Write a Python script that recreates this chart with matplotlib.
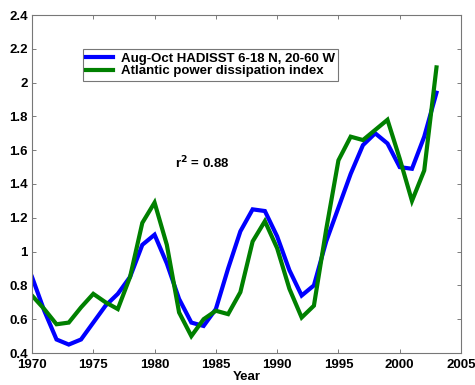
import matplotlib
matplotlib.use("Agg")
import matplotlib.pyplot as plt

plt.rcParams['font.family'] = ['Liberation Sans', 'DejaVu Sans']

years = list(range(1970, 2004))
sst = [0.85, 0.65, 0.48, 0.45, 0.48, 0.58, 0.68, 0.75, 0.85, 1.04,
       1.10, 0.93, 0.72, 0.58, 0.56, 0.66, 0.90, 1.12, 1.25, 1.24,
       1.09, 0.89, 0.74, 0.80, 1.06, 1.26, 1.46, 1.63, 1.70, 1.64,
       1.50, 1.49, 1.68, 1.94]
pdi = [0.74, 0.66, 0.57, 0.58, 0.67, 0.75, 0.70, 0.66, 0.85, 1.17,
       1.29, 1.04, 0.64, 0.50, 0.60, 0.65, 0.63, 0.76, 1.06, 1.18,
       1.02, 0.78, 0.61, 0.68, 1.13, 1.54, 1.68, 1.66, 1.72, 1.78,
       1.55, 1.30, 1.48, 2.09]
labels = ['Aug-Oct HADISST 6-18 N, 20-60 W', 'Atlantic power dissipation index']
xticks = [1970, 1975, 1980, 1985, 1990, 1995, 2000, 2005]
yticks = [0.4, 0.6, 0.8, 1.0, 1.2, 1.4, 1.6, 1.8, 2.0, 2.2, 2.4]
yticklabels = ['0.4', '0.6', '0.8', '1', '1.2', '1.4', '1.6', '1.8', '2', '2.2', '2.4']

fs = 9.5
fig = plt.figure(figsize=(4.75, 3.85), dpi=100)
ax = fig.add_axes([32/475, 1-353/385, (461-32)/475, (353-15)/385])
ax.plot(years, sst, color='#0000ff', lw=3.0, label=labels[0], solid_joinstyle='miter')
ax.plot(years, pdi, color='#008000', lw=3.0, label=labels[1], solid_joinstyle='miter')
ax.set_xlim(1970, 2005)
ax.set_ylim(0.4, 2.4)
ax.set_xticks(xticks)
ax.set_xticklabels([str(x) for x in xticks], fontweight='bold', fontsize=fs)
ax.set_yticks(yticks)
ax.set_yticklabels(yticklabels, fontweight='bold', fontsize=fs)
ax.tick_params(direction='in', top=True, right=True, length=3, width=0.6, color='#666666')
ax.tick_params(axis='x', pad=4)
ax.tick_params(axis='y', pad=3)
for s in ax.spines.values():
    s.set_color('#777777')
    s.set_linewidth(0.8)
ax.set_xlabel('Year', fontweight='bold', fontsize=fs, labelpad=0)
ax.text(1981.7, 1.525, r'r$^\mathbf{2}$ = 0.88', fontweight='bold', fontsize=fs, ha='left', va='center')
leg = ax.legend(loc='upper left', bbox_to_anchor=((83-32)/429, 1-(49-15)/338), prop={'weight': 'bold', 'size': fs},
                frameon=True, fancybox=False, edgecolor='#555555', handlelength=2.0, borderpad=0.25,
                labelspacing=0.05, handletextpad=0.6, borderaxespad=0)
leg.get_frame().set_linewidth(0.8)
fig.savefig('out.png', dpi=100)
